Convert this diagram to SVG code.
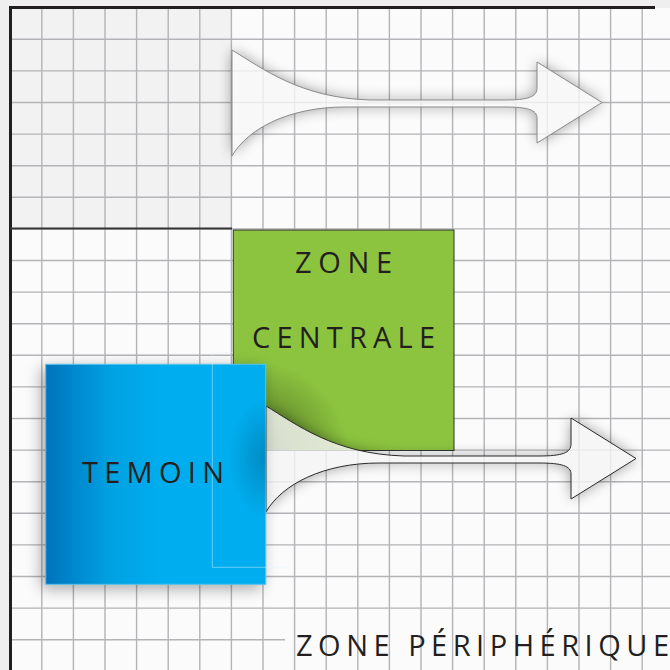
<svg xmlns="http://www.w3.org/2000/svg" width="670" height="670" viewBox="0 0 670 670">
<style>
.grid{fill:none;stroke:#b4b4b8;stroke-width:1.4}
.border{fill:none;stroke:#231f20;stroke-width:3}
.label{font-family:"Open Sans","Noto Sans","DejaVu Sans",sans-serif;fill:#231f20;font-size:29px}
.shadow{fill:#000;opacity:0.38}
</style>
<defs>
<path id="arrowShape" d="M232,50 C262,68 300,98 370,100 L505,100 C528,100 537,97 537,88 L537,62 L602,102.5 L537,143 L537,118 C537,110 528,107 505,107 L345,107 C290,107 248,128 232,156 Z"/>
<filter id="soft" x="-30%" y="-60%" width="160%" height="220%"><feGaussianBlur stdDeviation="7"/></filter>
<filter id="bshadow" x="-30%" y="-30%" width="160%" height="160%"><feGaussianBlur stdDeviation="8"/></filter>
<mask id="outside" maskUnits="userSpaceOnUse" x="-200" y="-200" width="1200" height="1200">
<rect x="-200" y="-200" width="1200" height="1200" fill="#fff"/>
<use href="#arrowShape" fill="#000"/>
</mask>
<linearGradient id="blueGrad" x1="0" y1="0" x2="1" y2="0">
<stop offset="0" stop-color="#0073bc"/>
<stop offset="0.3" stop-color="#00a2e3"/>
<stop offset="0.55" stop-color="#00aeef"/>
<stop offset="1" stop-color="#00aeef"/>
</linearGradient>
<radialGradient id="curl" gradientUnits="userSpaceOnUse" cx="258" cy="452" r="90">
<stop offset="0" stop-color="#000" stop-opacity="0.5"/>
<stop offset="0.5" stop-color="#000" stop-opacity="0.22"/>
<stop offset="1" stop-color="#000" stop-opacity="0"/>
</radialGradient>
<radialGradient id="blueShade" gradientUnits="userSpaceOnUse" cx="266" cy="458" r="38" gradientTransform="translate(266 458) scale(1 1.6) translate(-266 -458)">
<stop offset="0" stop-color="#005f8c" stop-opacity="0.45"/>
<stop offset="1" stop-color="#005f8c" stop-opacity="0"/>
</radialGradient>
<clipPath id="greenClip"><rect x="233.3" y="230" width="220.7" height="220.5"/></clipPath>
<clipPath id="blueClip"><rect x="45.7" y="364.3" width="220" height="220"/></clipPath>
</defs>

<rect x="0" y="0" width="670" height="670" fill="#efefef"/>

<g id="zone-peripherique">
<rect x="10" y="8" width="660" height="662" fill="#fbfbfb"/>
<rect x="10" y="8" width="222" height="220.5" fill="#f2f2f2"/>
<g id="grid">
<path class="grid" d="M41.8,8V670 M73.4,8V670 M105,8V670 M136.6,8V670 M168.2,8V670 M199.8,8V670 M231.4,8V670 M263,8V670 M294.6,8V670 M326.2,8V670 M357.8,8V670 M389.4,8V670 M421,8V670 M452.6,8V670 M484.2,8V670 M515.8,8V670 M547.4,8V670 M579,8V670 M610.6,8V670 M642.2,8V670
M10,39.3H670 M10,70.9H670 M10,102.5H670 M10,134.1H670 M10,165.7H670 M10,197.3H670 M10,228.9H670 M10,260.5H670 M10,292.1H670 M10,323.7H670 M10,355.3H670 M10,386.9H670 M10,418.5H670 M10,450.1H670 M10,481.7H670 M10,513.3H670 M10,544.9H670 M10,576.5H670 M10,608.1H670 M10,639.7H285"/>
</g>
<path class="border" d="M9,7.5H655 M10.5,6V670"/>
<path d="M10,228.5H232" fill="none" stroke="#333" stroke-width="2"/>
<text class="label" x="296" y="656" font-size="32" textLength="373" lengthAdjust="spacing">ZONE PÉRIPHÉRIQUE</text>
</g>

<g id="zone-centrale">
<rect x="233.3" y="230" width="220.7" height="220.5" fill="#8cc43f" stroke="#333" stroke-width="1"/>
<rect x="200" y="350" width="160" height="110" fill="url(#curl)" clip-path="url(#greenClip)"/>
<text class="label" x="295" y="272.7" textLength="97" lengthAdjust="spacing">ZONE</text>
<text class="label" x="252" y="347.7" textLength="183" lengthAdjust="spacing">CENTRALE</text>
</g>

<g id="connectors">
<g id="arrow-top">
<g mask="url(#outside)"><use href="#arrowShape" class="shadow" filter="url(#soft)"/></g>
<use href="#arrowShape" fill="#f8f8f8" fill-opacity="0.8" stroke="#8a8a8a" stroke-width="1"/>
</g>
<g id="arrow-bottom" transform="translate(34 356)">
<g mask="url(#outside)"><use href="#arrowShape" class="shadow" filter="url(#soft)"/></g>
<use href="#arrowShape" fill="#f4f4f4" fill-opacity="0.82" stroke="#2a2a2a" stroke-width="1"/>
</g>
</g>

<g id="temoin">
<rect x="41.7" y="368.3" width="220" height="220" fill="#000" opacity="0.35" filter="url(#bshadow)"/>
<rect x="45.7" y="364.3" width="220" height="220" fill="url(#blueGrad)" stroke="#55c4ef" stroke-width="1"/>
<rect x="200" y="380" width="70" height="170" fill="url(#blueShade)" clip-path="url(#blueClip)"/>
<path d="M233,352.3H212.3V567.3H290" fill="none" stroke="#e6f6fc" stroke-opacity="0.45" stroke-width="1"/>
<text class="label" x="82" y="482.7" textLength="142" lengthAdjust="spacing">TEMOIN</text>
</g>
</svg>
